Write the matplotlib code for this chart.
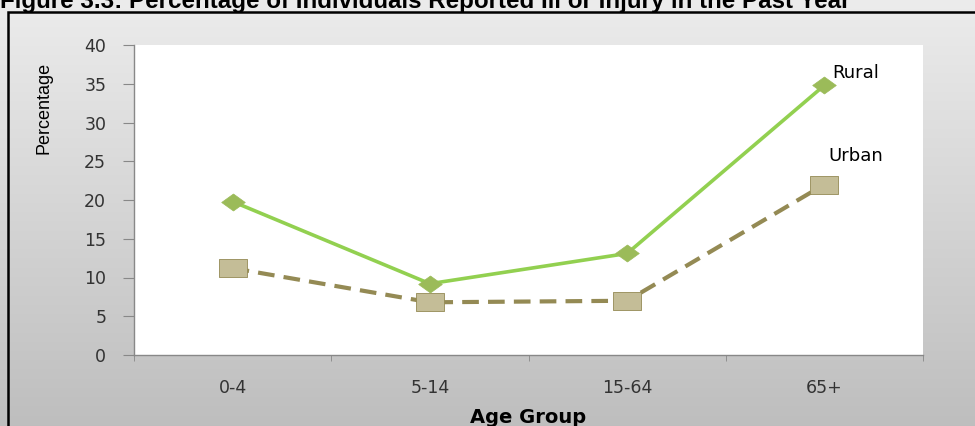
import numpy as np
import matplotlib
matplotlib.use("Agg")
import matplotlib.pyplot as plt
from matplotlib.patches import Rectangle
from matplotlib.path import Path

# data
age_groups = ["0-4", "5-14", "15-64", "65+"]
rural = [19.8, 9.2, 13.1, 34.8]
urban = [11.2, 6.8, 7.0, 22.0]
y_ticks = [0, 5, 10, 15, 20, 25, 30, 35, 40]

title = "Figure 3.3: Percentage of Individuals Reported Ill or Injury in the Past Year"

plt.rcParams["font.family"] = ["DejaVu Sans"]

fig = plt.figure(figsize=(9.75, 4.26), dpi=100)

# grey gradient background + black frame
bg = fig.add_axes([0, 0, 1, 1], zorder=-1)
grad = np.linspace(0.925, 0.745, 256).reshape(-1, 1)
bg.imshow(np.dstack([grad, grad, grad]), aspect="auto", extent=[0, 1, 0, 1])
bg.set_xlim(0, 1)
bg.set_ylim(0, 1)
bg.axis("off")
top = 1 - 12 / 426
bg.add_patch(Rectangle((8 / 975, -0.2), 1.2, top + 0.2, fill=False,
                       edgecolor="black", linewidth=1.8, clip_on=False))

# flattened diamond and rectangle markers
diamond = Path([(-1, 0), (0, 0.72), (1, 0), (0, -0.72), (-1, 0)],
               [Path.MOVETO, Path.LINETO, Path.LINETO, Path.LINETO, Path.CLOSEPOLY])
rect = Path([(-1, -0.66), (1, -0.66), (1, 0.66), (-1, 0.66), (-1, -0.66)],
            [Path.MOVETO, Path.LINETO, Path.LINETO, Path.LINETO, Path.CLOSEPOLY])

ax = fig.add_axes([134 / 975, 71 / 426, 789 / 975, 310 / 426])
ax.set_facecolor("white")
x = np.arange(len(age_groups))

ax.plot(x, urban, color="#948a54", linewidth=3, dashes=(4, 2.2),
        marker=rect, markersize=20, markerfacecolor="#c4bd97",
        markeredgecolor="#948a54", markeredgewidth=0.6, zorder=3)
ax.plot(x, rural, color="#92d050", linewidth=2.6,
        marker=diamond, markersize=17, markerfacecolor="#9bbb59",
        markeredgecolor="#9bbb59", markeredgewidth=0.5, zorder=4)

ax.text(3.04, 36.4, "Rural", fontsize=13, va="center", ha="left", color="black")
ax.text(3.02, 25.7, "Urban", fontsize=13, va="center", ha="left", color="black")

ax.set_xlim(-0.5, 3.5)
ax.set_ylim(0, 40)
ax.set_yticks(y_ticks)
ax.set_xticks(x)
ax.set_xticklabels(age_groups)
ax.set_xticks(np.arange(-0.5, 4.0, 1.0), minor=True)
ax.tick_params(axis="x", which="major", length=0, pad=17, labelsize=12.5,
               labelcolor="#333333")
ax.tick_params(axis="x", which="minor", length=4, color="#888888", direction="out")
ax.tick_params(axis="y", length=8, color="#888888", pad=12, labelsize=12.5,
               labelcolor="#333333")

for s in ["top", "right"]:
    ax.spines[s].set_visible(False)
for s in ["left", "bottom"]:
    ax.spines[s].set_color("#888888")
    ax.spines[s].set_linewidth(1)

ax.set_ylabel("Percentage", family=["Liberation Sans", "DejaVu Sans"],
              fontsize=13, color="black")
ax.yaxis.set_label_coords(-0.103, 0.797)
ax.set_xlabel("Age Group", fontsize=14, fontweight="bold", color="black")
ax.xaxis.label.set_va("baseline")
ax.xaxis.set_label_coords(0.5, -(423 - 355) / 310)

fig.text(0.0, 1 - 8 / 426, title, fontsize=17.4, fontweight="bold",
         family=["Liberation Sans", "DejaVu Sans"], va="baseline", ha="left",
         color="black")

fig.savefig("out.png", dpi=100)
